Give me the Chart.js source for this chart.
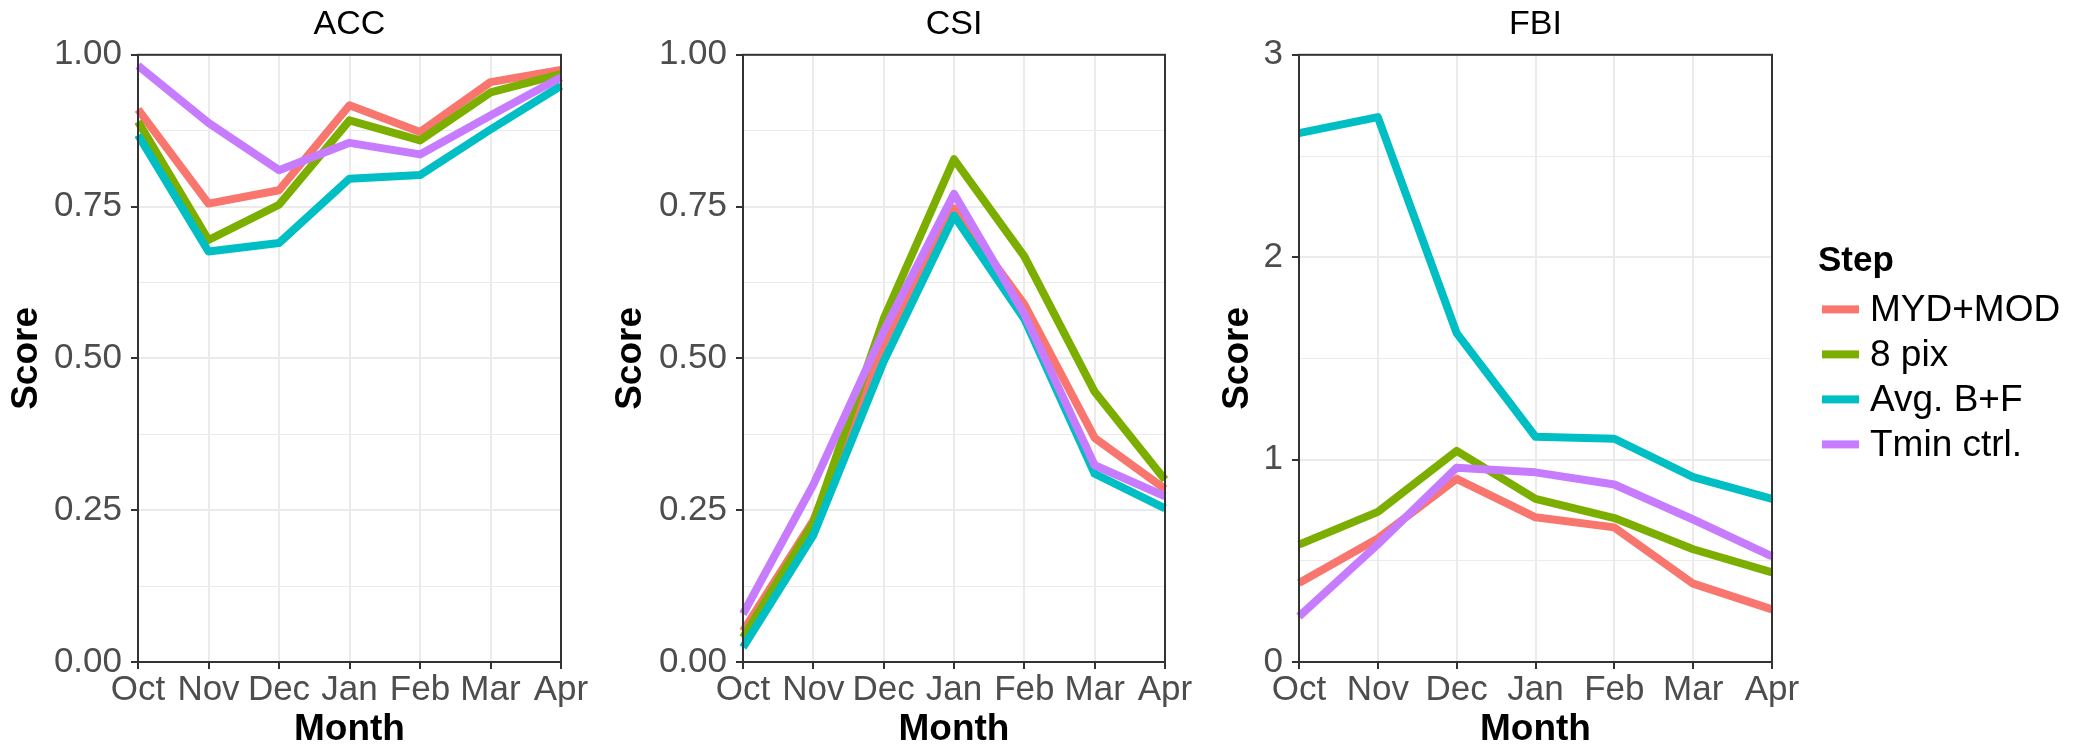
<!DOCTYPE html>
<html>
<head>
<meta charset="utf-8">
<title>ACC / CSI / FBI</title>
<script src="https://cdn.jsdelivr.net/npm/chart.js"></script>
<style>
  body { margin: 0; background: #fff; }
  #wrap { position: relative; width: 2074px; height: 749px; }
  canvas { position: absolute; top: 0; }
</style>
</head>
<body>
<div id="wrap">
  <canvas id="accChart" width="600" height="749" style="left:0"></canvas>
  <canvas id="csiChart" width="600" height="749" style="left:600px"></canvas>
  <canvas id="fbiChart" width="874" height="749" style="left:1200px"></canvas>
</div>
<script>
// data
var months = ['Oct', 'Nov', 'Dec', 'Jan', 'Feb', 'Mar', 'Apr'];
var steps = ['MYD+MOD', '8 pix', 'Avg. B+F', 'Tmin ctrl.'];
var stepColors = ['#F8766D', '#7CAE00', '#00BFC4', '#C77CFF'];

var accMydMod = [0.91, 0.755, 0.777, 0.917, 0.873, 0.955, 0.975];
var acc8pix   = [0.89, 0.695, 0.753, 0.892, 0.859, 0.938, 0.968];
var accAvgBF  = [0.868, 0.676, 0.69, 0.796, 0.802, 0.877, 0.949];
var accTmin   = [0.982, 0.888, 0.81, 0.855, 0.836, 0.9, 0.963];

var csiMydMod = [0.051, 0.233, 0.525, 0.747, 0.589, 0.369, 0.285];
var csi8pix   = [0.04, 0.229, 0.565, 0.828, 0.668, 0.445, 0.3];
var csiAvgBF  = [0.024, 0.209, 0.495, 0.735, 0.565, 0.31, 0.253];
var csiTmin   = [0.079, 0.292, 0.545, 0.771, 0.573, 0.324, 0.273];

var fbiMydMod = [0.39, 0.61, 0.905, 0.715, 0.665, 0.387, 0.26];
var fbi8pix   = [0.58, 0.742, 1.043, 0.806, 0.711, 0.557, 0.443];
var fbiAvgBF  = [2.613, 2.692, 1.625, 1.113, 1.103, 0.913, 0.806];
var fbiTmin   = [0.225, 0.581, 0.96, 0.937, 0.877, 0.704, 0.522];

var fontFamily = '"Liberation Sans", Arial, Helvetica, sans-serif';
Chart.defaults.font.family = fontFamily;
Chart.defaults.animation = false;

// panel border (theme_bw style)
var frame = {
  id: 'frame',
  afterDatasetsDraw: function(chart) {
    var a = chart.chartArea, c = chart.ctx;
    c.save();
    c.strokeStyle = '#333333';
    c.lineWidth = 2;
    c.strokeRect(a.left, a.top, a.right - a.left, a.bottom - a.top);
    c.restore();
  }
};

// ggplot-like legend to the right of the last panel
// (the built-in one gets squeezed by the layout, so it is drawn here)
var stepLegend = {
  id: 'stepLegend',
  afterDraw: function(chart, args, o) {
    if (!o.show) return;
    var a = chart.chartArea, c = chart.ctx;
    var mid = (a.top + a.bottom) / 2;
    c.save();
    c.textBaseline = 'middle';
    c.textAlign = 'left';
    c.fillStyle = '#000';
    c.font = 'bold 35px ' + fontFamily;
    c.fillText('Step', a.right + 46, mid - 97);
    c.font = '37px ' + fontFamily;
    chart.data.datasets.forEach(function(ds, i) {
      var y = mid - 49 + 45 * i;
      c.fillStyle = ds.borderColor;
      c.fillRect(a.right + 50, y - 4, 37, 8);
      c.fillStyle = '#000';
      c.fillText(ds.label, a.right + 98, y + 1);
    });
    c.restore();
  }
};

function makePanel(id, title, series, yMax, minorStep, majorStep, digits, opt) {
  var isMajor = function(v) {
    return Math.abs(v / majorStep - Math.round(v / majorStep)) < 1e-6;
  };
  var datasets = series.map(function(vals, i) {
    return {
      label: steps[i],
      data: vals,
      borderColor: stepColors[i],
      backgroundColor: stepColors[i],
      borderWidth: 8,
      borderJoinStyle: 'round',
      pointRadius: 0,
      tension: 0,
      order: series.length - i
    };
  });

  return new Chart(document.getElementById(id), {
    type: 'line',
    data: { labels: months, datasets: datasets },
    options: {
      responsive: false,
      layout: { padding: { left: 0, right: opt.padRight, top: 0, bottom: 0 } },
      scales: {
        x: {
          type: 'category',
          offset: false,
          grid: { color: '#EBEBEB', lineWidth: 2, tickLength: 7, tickColor: '#333333' },
          border: { display: false },
          ticks: { color: '#4D4D4D', font: { size: 35 }, padding: 0, autoSkip: false, maxRotation: 0 },
          title: { display: true, text: 'Month', color: '#000', font: { size: 37, weight: 'bold', lineHeight: 1 }, padding: { top: 0, bottom: 1 } },
          afterFit: function(s) { s.height = 87; }
        },
        y: {
          type: 'linear',
          position: 'left',
          min: 0,
          max: yMax,
          grid: {
            color: '#EBEBEB',
            lineWidth: function(c) { return c.tick && isMajor(c.tick.value) ? 2 : 1; },
            tickLength: 7,
            tickColor: function(c) { return c.tick && isMajor(c.tick.value) ? '#333333' : 'rgba(0,0,0,0)'; }
          },
          border: { display: false },
          ticks: {
            stepSize: minorStep,
            autoSkip: false,
            color: '#4D4D4D',
            font: { size: 35 },
            padding: 9,
            callback: function(v) { return isMajor(v) ? v.toFixed(digits) : ''; }
          },
          title: { display: true, text: 'Score', color: '#000', font: { size: 37, weight: 'bold', lineHeight: 1 }, padding: { top: opt.scorePad, bottom: 0 } },
          afterFit: function(s) { s.width = opt.yWidth; }
        }
      },
      plugins: {
        tooltip: { enabled: false },
        legend: { display: false },
        title: {
          display: true, text: title, color: '#000', fullSize: false,
          font: { size: 34, weight: 'normal' }, padding: { top: 4, bottom: 10 }
        },
        stepLegend: { show: opt.legend }
      }
    },
    plugins: [frame, stepLegend]
  });
}

makePanel('accChart', 'ACC', [accMydMod, acc8pix, accAvgBF, accTmin], 1, 0.125, 0.25, 2,
  { yWidth: 138, padRight: 39, scorePad: 8.5, legend: false });
makePanel('csiChart', 'CSI', [csiMydMod, csi8pix, csiAvgBF, csiTmin], 1, 0.125, 0.25, 2,
  { yWidth: 143, padRight: 35, scorePad: 12.5, legend: false });
makePanel('fbiChart', 'FBI', [fbiMydMod, fbi8pix, fbiAvgBF, fbiTmin], 3, 0.5, 1, 0,
  { yWidth: 99, padRight: 302, scorePad: 19.5, legend: true });
</script>
</body>
</html>
